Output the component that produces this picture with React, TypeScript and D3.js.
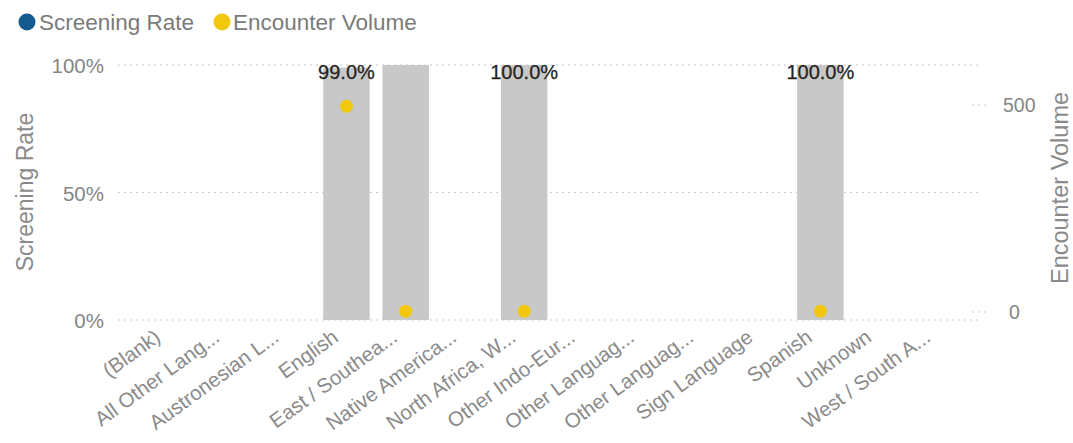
import { useEffect, useRef } from 'react';
import * as d3 from 'd3';

const categories = [
  '(Blank)', 'All Other Lang...', 'Austronesian L...', 'English', 'East / Southea...',
  'Native America...', 'North Africa, W...', 'Other Indo-Eur...', 'Other Languag...',
  'Other Languag...', 'Sign Language', 'Spanish', 'Unknown', 'West / South A...',
];
const screeningRate = [null, null, null, 0.99, 1.0, null, 1.0, null, null, null, null, 1.0, null, null];
const showRateLabel = [false, false, false, true, false, false, true, false, false, false, false, true, false, false];
const encounterVolume = [null, null, null, 497, 2, null, 2, null, null, null, null, 2, null, null];
const rateTicks = [0, 0.5, 1];
const volumeTicks = [0, 500];

const FONT = '"Liberation Sans", Arial, sans-serif';

function App() {
  const svgRef = useRef<SVGSVGElement>(null);

  useEffect(() => {
    if (!svgRef.current) return;
    const svg = d3.select(svgRef.current);
    svg.selectAll('*').remove();

    const width = 1073;
    const height = 443;
    svg.attr('viewBox', `0 0 ${width} ${height}`);

    const x = d3.scaleBand<number>()
      .domain(categories.map((_, i) => i))
      .range([118, 982])
      .paddingInner(0.215)
      .paddingOuter(0.4)
      .align(0.58);

    const yRate = d3.scaleLinear().domain([0, 1]).range([320, 65]);
    const yVol = d3.scaleLinear().domain([0, 500]).range([312, 105]);

    // legend
    const legend = svg.append('g').attr('font-family', FONT).attr('font-size', 22.5).attr('fill', '#7a7a7a');
    legend.append('circle').attr('cx', 27).attr('cy', 22).attr('r', 8.5).attr('fill', '#135b8c');
    legend.append('text').attr('x', 39).attr('y', 29.5).text('Screening Rate');
    legend.append('circle').attr('cx', 222).attr('cy', 22).attr('r', 8.5).attr('fill', '#f2c80f');
    legend.append('text').attr('x', 233).attr('y', 29.5).text('Encounter Volume');

    // gridlines (left axis)
    svg.append('g').selectAll('line')
      .data(rateTicks)
      .enter()
      .append('line')
      .attr('x1', 118).attr('x2', 982)
      .attr('y1', d => yRate(d)).attr('y2', d => yRate(d))
      .attr('stroke', '#c8c8c8')
      .attr('stroke-width', 1)
      .attr('stroke-dasharray', '2,4');

    // short gridlines (right axis)
    svg.append('g').selectAll('line')
      .data(volumeTicks)
      .enter()
      .append('line')
      .attr('x1', 972).attr('x2', 990)
      .attr('y1', d => yVol(d)).attr('y2', d => yVol(d))
      .attr('stroke', '#c8c8c8')
      .attr('stroke-dasharray', '2,4');

    // left axis labels
    svg.append('g').selectAll('text')
      .data(rateTicks)
      .enter()
      .append('text')
      .attr('x', 104)
      .attr('y', d => yRate(d) + 8)
      .attr('text-anchor', 'end')
      .attr('font-family', FONT)
      .attr('font-size', 20.5)
      .attr('fill', '#858585')
      .text(d => d3.format('.0%')(d));

    svg.append('text')
      .attr('transform', 'translate(33, 192) rotate(-90)')
      .attr('text-anchor', 'middle')
      .attr('font-family', FONT)
      .attr('font-size', 23)
      .attr('fill', '#8a8a8a')
      .text('Screening Rate');

    // right axis labels
    svg.append('g').selectAll('text')
      .data(volumeTicks)
      .enter()
      .append('text')
      .attr('x', d => (d === 0 ? 1009 : 1003))
      .attr('y', d => yVol(d) + 7)
      .attr('font-family', FONT)
      .attr('font-size', 19.5)
      .attr('fill', '#858585')
      .text(d => d3.format('d')(d));

    svg.append('text')
      .attr('transform', 'translate(1068, 188) rotate(-90)')
      .attr('text-anchor', 'middle')
      .attr('font-family', FONT)
      .attr('font-size', 23.5)
      .attr('fill', '#8a8a8a')
      .text('Encounter Volume');

    // bars
    const rows = categories.map((c, i) => ({
      c, i, rate: screeningRate[i], vol: encounterVolume[i], showLabel: showRateLabel[i],
    }));

    svg.append('g').selectAll('rect')
      .data(rows.filter(r => r.rate !== null))
      .enter()
      .append('rect')
      .attr('x', d => x(d.i)!)
      .attr('width', x.bandwidth())
      .attr('y', d => yRate(d.rate as number))
      .attr('height', d => yRate(0) - yRate(d.rate as number))
      .attr('fill', '#c8c8c8');

    // data labels: outside end, clamped inside the plot top
    svg.append('g').selectAll('text')
      .data(rows.filter(r => r.rate !== null && r.showLabel))
      .enter()
      .append('text')
      .attr('x', d => x(d.i)! + x.bandwidth() / 2)
      .attr('y', d => Math.max(yRate(d.rate as number) - 4, yRate(1) + 13.5))
      .attr('text-anchor', 'middle')
      .attr('font-family', FONT)
      .attr('font-size', 20)
      .attr('fill', '#252423')
      .attr('stroke', '#252423')
      .attr('stroke-width', 0.25)
      .text(d => d3.format('.1%')(d.rate as number));

    // dots
    svg.append('g').selectAll('circle')
      .data(rows.filter(r => r.vol !== null))
      .enter()
      .append('circle')
      .attr('cx', d => x(d.i)! + x.bandwidth() / 2)
      .attr('cy', d => yVol(d.vol as number))
      .attr('r', 6.5)
      .attr('fill', '#f2c80f');

    // x labels
    svg.append('g').selectAll('text')
      .data(rows)
      .enter()
      .append('text')
      .attr('transform', d => `translate(${x(d.i)! + x.bandwidth() / 2 - 7}, 340) rotate(-36)`)
      .attr('text-anchor', 'end')
      .attr('font-family', FONT)
      .attr('font-size', 20.5)
      .attr('fill', '#8a8a8a')
      .text(d => d.c);
  }, []);

  return (
    <svg
      ref={svgRef}
      width={1073}
      height={443}
      style={{ position: 'absolute', left: 0, top: 0, background: '#fff' }}
    />
  );
}

export default App;
